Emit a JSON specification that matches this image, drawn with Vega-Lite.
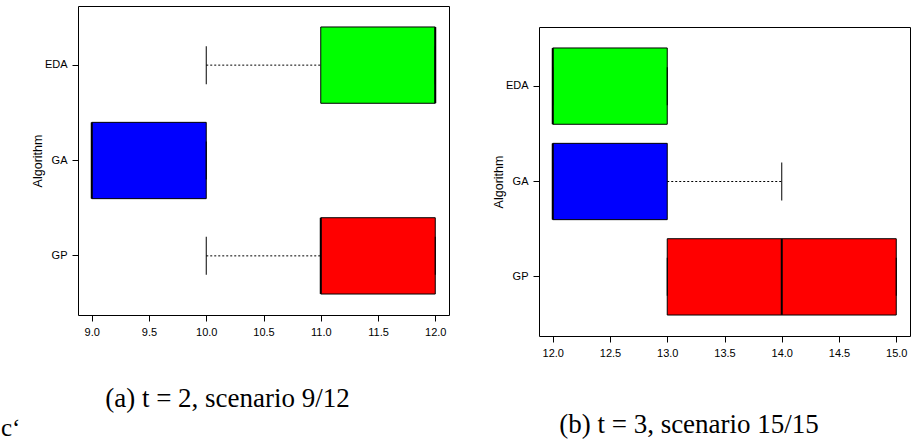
{
  "$schema": "https://vega.github.io/schema/vega-lite/v6.json",
  "padding": {"left": 0, "top": 5, "right": 0, "bottom": 0},
  "background": "white",
  "title": {"text": "c‘", "orient": "bottom", "anchor": "start", "font": "Liberation Serif", "fontSize": 25, "fontWeight": "normal", "color": "black", "offset": 0, "dx": -30, "dy": -22},
  "datasets": {
    "a": [
      {"alg": "EDA", "lo": 10, "q1": 11, "med": 12, "q3": 12, "hi": 12},
      {"alg": "GA", "lo": 9, "q1": 9, "med": 9, "q3": 10, "hi": 10},
      {"alg": "GP", "lo": 10, "q1": 11, "med": 11, "q3": 12, "hi": 12}
    ],
    "b": [
      {"alg": "EDA", "lo": 12, "q1": 12, "med": 12, "q3": 13, "hi": 13},
      {"alg": "GA", "lo": 12, "q1": 12, "med": 12, "q3": 13, "hi": 14},
      {"alg": "GP", "lo": 13, "q1": 13, "med": 14, "q3": 15, "hi": 15}
    ],
    "spacer": [{"s": 0}]
  },
  "spacing": 41,
  "hconcat": [
    {
      "width": 371,
      "height": 309,
      "data": {"name": "a"},
      "encoding": {
        "y": {"field": "alg", "type": "nominal", "sort": ["EDA", "GA", "GP"],
              "scale": {"paddingInner": 0.2, "paddingOuter": 0.22},
              "axis": {"title": "Algorithm", "titleFontSize": 12.5, "titleFontWeight": "normal", "titleFont": "Liberation Sans", "titleColor": "black", "titlePadding": 0,
                       "labelFont": "Liberation Sans", "labelFontSize": 11, "labelColor": "black", "labelPadding": 5, "tickSize": 6, "tickColor": "black", "domain": false, "grid": false}}
      },
      "layer": [
        {"mark": {"type": "rule", "strokeDash": [2, 2], "color": "black", "strokeWidth": 1},
         "encoding": {"x": {"field": "lo", "type": "quantitative", "scale": {"domain": [8.88, 12.12], "nice": false, "zero": false},
                            "axis": {"values": [9, 9.5, 10, 10.5, 11, 11.5, 12], "format": ".1f", "grid": false, "domain": false,
                                     "labelFont": "Liberation Sans", "labelFontSize": 11, "labelColor": "black", "labelPadding": 5, "tickSize": 6, "tickColor": "black",
                                     "title": "(a) t = 2, scenario 9/12", "titleFont": "Liberation Serif", "titleFontSize": 27, "titleFontWeight": "normal", "titleColor": "black",
                                     "titleX": 149, "titleY": 83, "titleAlign": "center", "titleBaseline": "middle"}},
                      "x2": {"field": "q1"}}},
        {"mark": {"type": "rule", "strokeDash": [2, 2], "color": "black", "strokeWidth": 1},
         "encoding": {"x": {"field": "q3", "type": "quantitative"}, "x2": {"field": "hi"}}},
        {"mark": {"type": "bar", "stroke": "black", "strokeWidth": 1, "opacity": 1},
         "encoding": {"x": {"field": "q1", "type": "quantitative"}, "x2": {"field": "q3"},
                      "color": {"field": "alg", "type": "nominal", "scale": {"domain": ["EDA", "GA", "GP"], "range": ["#00ff00", "#0000ff", "#ff0000"]}, "legend": null}}},
        {"mark": {"type": "tick", "color": "black", "size": 38, "thickness": 1, "opacity": 1},
         "encoding": {"x": {"field": "lo", "type": "quantitative"}}},
        {"mark": {"type": "tick", "color": "black", "size": 38, "thickness": 1, "opacity": 1},
         "encoding": {"x": {"field": "hi", "type": "quantitative"}}},
        {"mark": {"type": "tick", "color": "black", "size": 76, "thickness": 2, "opacity": 1},
         "encoding": {"x": {"field": "med", "type": "quantitative"}}}
      ]
    },
    {
      "spacing": 19,
      "vconcat": [
        {
          "width": 371,
          "height": 1,
          "data": {"name": "spacer"},
          "mark": {"type": "point", "opacity": 0, "size": 1},
          "view": {"stroke": null}
        },
        {
          "width": 371,
          "height": 309,
          "data": {"name": "b"},
          "encoding": {
            "y": {"field": "alg", "type": "nominal", "sort": ["EDA", "GA", "GP"],
                  "scale": {"paddingInner": 0.2, "paddingOuter": 0.22},
                  "axis": {"title": "Algorithm", "titleFontSize": 12.5, "titleFontWeight": "normal", "titleFont": "Liberation Sans", "titleColor": "black", "titlePadding": 0,
                           "labelFont": "Liberation Sans", "labelFontSize": 11, "labelColor": "black", "labelPadding": 5, "tickSize": 6, "tickColor": "black", "domain": false, "grid": false}}
          },
          "layer": [
            {"mark": {"type": "rule", "strokeDash": [2, 2], "color": "black", "strokeWidth": 1},
             "encoding": {"x": {"field": "lo", "type": "quantitative", "scale": {"domain": [11.88, 15.12], "nice": false, "zero": false},
                                "axis": {"values": [12, 12.5, 13, 13.5, 14, 14.5, 15], "format": ".1f", "grid": false, "domain": false,
                                         "labelFont": "Liberation Sans", "labelFontSize": 11, "labelColor": "black", "labelPadding": 5, "tickSize": 6, "tickColor": "black",
                                         "title": "(b) t = 3, scenario 15/15", "titleFont": "Liberation Serif", "titleFontSize": 27, "titleFontWeight": "normal", "titleColor": "black",
                                         "titleX": 149.5, "titleY": 88, "titleAlign": "center", "titleBaseline": "middle"}},
                          "x2": {"field": "q1"}}},
            {"mark": {"type": "rule", "strokeDash": [2, 2], "color": "black", "strokeWidth": 1},
             "encoding": {"x": {"field": "q3", "type": "quantitative"}, "x2": {"field": "hi"}}},
            {"mark": {"type": "bar", "stroke": "black", "strokeWidth": 1, "opacity": 1},
             "encoding": {"x": {"field": "q1", "type": "quantitative"}, "x2": {"field": "q3"},
                          "color": {"field": "alg", "type": "nominal", "scale": {"domain": ["EDA", "GA", "GP"], "range": ["#00ff00", "#0000ff", "#ff0000"]}, "legend": null}}},
            {"mark": {"type": "tick", "color": "black", "size": 38, "thickness": 1, "opacity": 1},
             "encoding": {"x": {"field": "lo", "type": "quantitative"}}},
            {"mark": {"type": "tick", "color": "black", "size": 38, "thickness": 1, "opacity": 1},
             "encoding": {"x": {"field": "hi", "type": "quantitative"}}},
            {"mark": {"type": "tick", "color": "black", "size": 76, "thickness": 2, "opacity": 1},
             "encoding": {"x": {"field": "med", "type": "quantitative"}}}
          ]
        }
      ]
    }
  ],
  "resolve": {"scale": {"color": "independent"}},
  "config": {
    "view": {"stroke": "black", "strokeWidth": 1},
    "axis": {"tickWidth": 1}
  }
}
